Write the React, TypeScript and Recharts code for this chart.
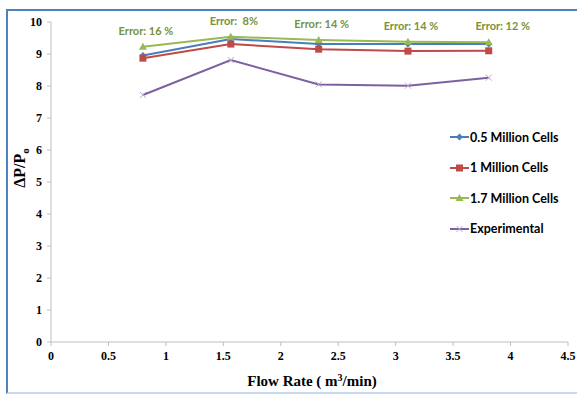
import React from "react";
import { LineChart, Line, XAxis, YAxis } from "recharts";

// flow rate (m3/min) of each run
const flowRates = [0.8, 1.565, 2.33, 3.107, 3.81];

// dP/Po per mesh and measured
const halfMillionCells = [8.95, 9.47, 9.31, 9.31, 9.31];
const oneMillionCells = [8.87, 9.31, 9.15, 9.09, 9.1];
const onePointSevenMillionCells = [9.23, 9.54, 9.44, 9.38, 9.37];
const experimental = [7.72, 8.81, 8.05, 8.01, 8.26];

const errorLabels = ["Error: 16 %", "Error:  8%", "Error: 14 %", "Error: 14 %", "Error: 12 %"];

const xTicks = [0, 0.5, 1, 1.5, 2, 2.5, 3, 3.5, 4, 4.5];
const yTicks = [0, 1, 2, 3, 4, 5, 6, 7, 8, 9, 10];

const data = flowRates.map((x, i) => ({
  x,
  half: halfMillionCells[i],
  one: oneMillionCells[i],
  onePointSeven: onePointSevenMillionCells[i],
  exp: experimental[i],
  err: errorLabels[i],
}));

const BLUE = "#4a7ebb";
const RED = "#be4b48";
const GREEN = "#98b954";
const PURPLE = "#7d60a0";
const OLIVE = "#77933c";
const SERIF = "'Liberation Serif', 'Times New Roman', serif";
const SANS = "Lato, 'Open Sans', sans-serif";

const Diamond = ({ cx, cy }: any) => (
  <path d={`M${cx},${cy - 3.5}L${cx + 3.5},${cy}L${cx},${cy + 3.5}L${cx - 3.5},${cy}Z`} fill={BLUE} />
);
const Square = ({ cx, cy }: any) => <rect x={cx - 3.5} y={cy - 3.5} width={7} height={7} fill={RED} />;
const Triangle = ({ cx, cy }: any) => (
  <path d={`M${cx},${cy - 4}L${cx + 4},${cy + 3}L${cx - 4},${cy + 3}Z`} fill={GREEN} />
);
const Cross = ({ cx, cy }: any) => (
  <path
    d={`M${cx - 3},${cy - 3}L${cx + 3},${cy + 3}M${cx - 3},${cy + 3}L${cx + 3},${cy - 3}`}
    stroke="#b9a9d0"
    strokeWidth={1}
  />
);

const series = [
  { key: "half", name: "0.5 Million Cells", color: BLUE, Dot: Diamond },
  { key: "one", name: "1 Million Cells", color: RED, Dot: Square },
  { key: "onePointSeven", name: "1.7 Million Cells", color: GREEN, Dot: Triangle },
  { key: "exp", name: "Experimental", color: PURPLE, Dot: Cross },
];

const XTick = ({ x, y, payload }: any) => (
  <text x={x} y={y + 12} textAnchor="middle" fontFamily={SERIF} fontWeight="bold" fontSize={12} fill="#000">
    {payload.value}
  </text>
);
const YTick = ({ x, y, payload }: any) => (
  <text x={x} y={y + 4} textAnchor="end" fontFamily={SERIF} fontWeight="bold" fontSize={12} fill="#000">
    {payload.value}
  </text>
);

const ErrorLabel = ({ cx, cy, index }: any) => (
  <text
    x={cx + (index === 4 ? 14 : 3)}
    y={cy - 12}
    textAnchor="middle"
    fontFamily={SANS}
    fontWeight="bold"
    fontSize={11}
    fill={OLIVE}
    style={{ whiteSpace: "pre" }}
  >
    {errorLabels[index]}
  </text>
);

const GreenDot = (props: any) => (
  <g key={`g-${props.index}`}>
    <Triangle {...props} />
    <ErrorLabel {...props} />
  </g>
);

export default function App() {
  return (
    <div style={{ position: "absolute", left: 0, top: 0, width: 577, height: 394, background: "#fff" }}>
      <div
        style={{
          position: "absolute",
          left: 6,
          top: 9,
          width: 580,
          height: 381,
          borderLeft: "2px solid #4f81bd",
          borderTop: "2px solid #4f81bd",
          borderBottom: "2px solid #c6d9f1",
        }}
      />
      <LineChart width={577} height={394} data={data} margin={{ top: 22, right: 9, bottom: 0, left: 0 }}>
        <XAxis
          dataKey="x"
          type="number"
          domain={[0, 4.5]}
          ticks={xTicks}
          interval={0}
          stroke="#bfbfbf"
          tickSize={4}
          tickMargin={2}
          height={52}
          tick={<XTick />}
          label={{
            content: () => (
              <text x={312} y={386} textAnchor="middle" fontFamily={SERIF} fontWeight="bold" fontSize={15}>
                Flow Rate ( m<tspan dy={-5} fontSize={10}>3</tspan>
                <tspan dy={5}>/min)</tspan>
              </text>
            ),
          }}
        />
        <YAxis
          type="number"
          domain={[0, 10]}
          ticks={yTicks}
          interval={0}
          stroke="#bfbfbf"
          tickSize={4}
          tickMargin={5}
          width={51}
          tick={<YTick />}
          label={{
            content: () => (
              <text
                x={25}
                y={168}
                transform="rotate(-90 25 168)"
                textAnchor="middle"
                fontFamily={SERIF}
                fontWeight="bold"
                fontSize={16}
              >
                ΔP/P<tspan dy={4} fontSize={11}>o</tspan>
              </text>
            ),
          }}
        />
        {series.map((s) => (
          <Line
            key={s.key}
            dataKey={s.key}
            name={s.name}
            stroke={s.color}
            strokeWidth={2}
            isAnimationActive={false}
            dot={s.key === "onePointSeven" ? GreenDot : (p: any) => <s.Dot key={`${s.key}-${p.index}`} {...p} />}
            activeDot={false}
          />
        ))}
      </LineChart>
      {series.map((s, i) => (
        <div
          key={s.key}
          style={{
            position: "absolute",
            left: 450,
            top: 129 + i * 30.5,
            height: 16,
            display: "flex",
            alignItems: "center",
            fontFamily: SANS,
            fontWeight: "bold",
            fontSize: 12.5,
            color: "#000",
          }}
        >
          <svg width={19} height={16}>
            <line x1={0} y1={8} x2={19} y2={8} stroke={s.color} strokeWidth={2} />
            <s.Dot cx={9.5} cy={8} />
          </svg>
          <span style={{ marginLeft: 1 }}>{s.name}</span>
        </div>
      ))}
    </div>
  );
}
